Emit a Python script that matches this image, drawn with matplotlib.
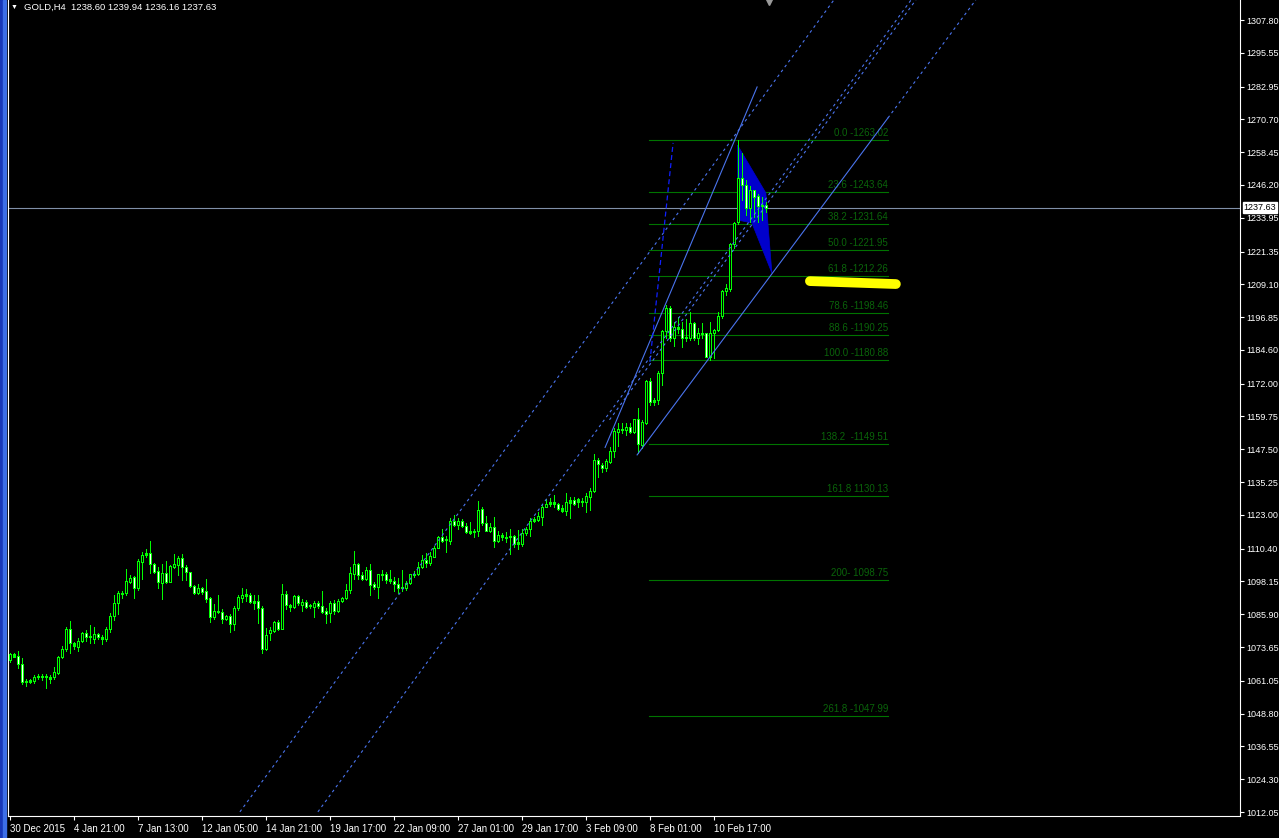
import numpy as np
import matplotlib.pyplot as plt
from matplotlib.patches import Polygon, Rectangle

plt.rcParams['font.family'] = ['Liberation Sans', 'DejaVu Sans']

# GOLD H4 candles (bar index = position on the time axis)
opens = [1068.8, 1070.9, 1070.3, 1067.3, 1060.7, 1060.6, 1060.8, 1062.5, 1062.9, 1062.3,
         1061.8, 1062.3, 1064.1, 1069.8, 1072.8, 1080.4, 1075.0, 1073.6, 1076.0, 1078.8,
         1077.3, 1076.6, 1078.5, 1077.3, 1076.6, 1080.4, 1085.1, 1090.0, 1093.7, 1093.7,
         1098.1, 1099.7, 1095.8, 1105.5, 1107.9, 1108.6, 1104.5, 1101.9, 1097.7, 1101.2,
         1098.1, 1103.7, 1104.3, 1106.8, 1103.7, 1101.5, 1096.6, 1094.0, 1095.6, 1094.6,
         1091.8, 1085.0, 1086.9, 1086.6, 1084.1, 1085.1, 1082.1, 1088.1, 1092.1, 1093.5,
         1092.9, 1090.8, 1090.8, 1088.1, 1072.8, 1079.0, 1079.8, 1082.9, 1080.4, 1093.5,
         1089.3, 1088.5, 1092.7, 1089.3, 1090.6, 1089.0, 1088.5, 1090.2, 1089.0, 1087.1,
         1086.2, 1090.0, 1087.1, 1090.8, 1091.8, 1095.0, 1100.8, 1104.5, 1100.5, 1099.0,
         1102.6, 1097.2, 1096.2, 1100.8, 1100.8, 1099.0, 1098.5, 1097.3, 1095.8, 1095.6,
         1097.4, 1100.7, 1101.1, 1103.6, 1106.1, 1105.1, 1107.4, 1110.7, 1114.6, 1113.5,
         1113.4, 1120.8, 1119.3, 1120.9, 1119.0, 1116.9, 1116.5, 1116.9, 1125.2, 1120.0,
         1117.1, 1118.6, 1113.3, 1115.5, 1114.6, 1114.6, 1115.0, 1112.0, 1112.2, 1116.1,
         1117.6, 1120.8, 1121.1, 1122.3, 1126.0, 1126.9, 1127.7, 1126.9, 1125.4, 1124.5,
         1127.6, 1128.6, 1127.9, 1128.3, 1127.8, 1129.8, 1132.0, 1143.5, 1141.8, 1140.6,
         1142.8, 1146.8, 1154.0, 1155.0, 1154.7, 1155.9, 1154.0, 1158.8, 1149.1, 1157.5,
         1173.0, 1165.0, 1165.9, 1175.8, 1191.6, 1200.4, 1188.9, 1193.3, 1192.6, 1189.0,
         1188.9, 1194.5, 1188.9, 1190.8, 1190.8, 1182.1, 1190.8, 1192.0, 1197.3, 1206.6,
         1207.2, 1224.0, 1232.3, 1248.7, 1246.2, 1237.5, 1244.3, 1242.0, 1238.3, 1238.60]
highs = [1071.3, 1071.3, 1072.2, 1069.4, 1061.6, 1061.6, 1063.1, 1063.6, 1063.6, 1063.6,
         1063.1, 1066.1, 1070.4, 1074.0, 1081.3, 1083.4, 1075.5, 1077.0, 1079.3, 1080.0,
         1081.9, 1081.0, 1079.0, 1078.1, 1081.0, 1086.4, 1093.1, 1094.7, 1094.7, 1102.7,
         1100.5, 1100.2, 1106.4, 1109.3, 1110.3, 1113.3, 1104.9, 1103.7, 1104.7, 1105.8,
         1104.3, 1108.5, 1107.8, 1108.3, 1104.3, 1101.8, 1096.8, 1097.2, 1095.9, 1099.1,
         1092.5, 1089.7, 1093.1, 1087.7, 1085.6, 1085.9, 1089.0, 1093.1, 1095.6, 1095.3,
         1093.7, 1093.1, 1093.1, 1089.0, 1080.6, 1081.0, 1083.5, 1083.7, 1097.2, 1094.7,
         1089.7, 1093.1, 1093.1, 1091.5, 1091.2, 1089.7, 1090.8, 1091.0, 1094.6, 1088.1,
         1090.8, 1091.2, 1091.5, 1092.5, 1097.1, 1103.4, 1109.5, 1105.1, 1101.8, 1103.4,
         1104.6, 1098.0, 1101.1, 1102.6, 1101.8, 1102.6, 1099.9, 1099.3, 1102.6, 1098.3,
         1101.1, 1102.0, 1105.5, 1108.0, 1108.6, 1109.2, 1111.5, 1115.2, 1117.7, 1115.1,
         1121.7, 1122.9, 1121.9, 1121.3, 1119.8, 1120.4, 1117.9, 1128.2, 1125.8, 1122.6,
         1119.8, 1122.1, 1117.1, 1116.1, 1116.7, 1117.9, 1115.5, 1117.3, 1117.9, 1118.6,
         1121.7, 1122.3, 1124.2, 1127.0, 1128.8, 1129.2, 1130.4, 1127.3, 1126.7, 1131.0,
         1129.5, 1129.5, 1129.2, 1129.2, 1131.0, 1132.9, 1145.6, 1144.1, 1142.2, 1143.7,
         1148.4, 1155.5, 1157.2, 1157.4, 1157.2, 1157.2, 1158.8, 1163.0, 1158.4, 1173.3,
         1174.0, 1166.5, 1176.7, 1191.9, 1201.4, 1201.0, 1195.2, 1197.0, 1195.0, 1196.0,
         1198.6, 1195.2, 1192.7, 1194.5, 1190.9, 1195.0, 1192.6, 1198.9, 1207.0, 1209.4,
         1224.5, 1232.5, 1263.0, 1258.0, 1248.0, 1246.0, 1244.5, 1243.0, 1241.8, 1239.94]
lows = [1068.2, 1069.8, 1065.7, 1059.8, 1059.2, 1060.1, 1060.3, 1061.7, 1061.3, 1058.2,
        1060.1, 1061.7, 1063.4, 1069.7, 1072.3, 1071.3, 1073.0, 1072.3, 1075.6, 1076.0,
        1075.0, 1075.3, 1076.8, 1074.8, 1076.0, 1079.1, 1083.7, 1086.0, 1091.8, 1093.1,
        1097.4, 1092.1, 1095.0, 1099.2, 1107.4, 1101.2, 1101.4, 1095.6, 1091.6, 1097.7,
        1097.8, 1103.0, 1100.5, 1098.7, 1098.7, 1095.9, 1093.5, 1093.3, 1093.5, 1090.6,
        1083.1, 1084.1, 1086.5, 1082.7, 1083.7, 1079.4, 1080.0, 1087.5, 1090.6, 1091.0,
        1090.0, 1087.7, 1082.7, 1071.3, 1072.5, 1076.3, 1079.4, 1080.0, 1080.3, 1087.7,
        1087.2, 1088.2, 1089.3, 1087.2, 1088.1, 1088.1, 1085.0, 1088.1, 1086.5, 1082.5,
        1083.1, 1086.0, 1086.6, 1090.5, 1091.5, 1094.0, 1099.0, 1099.0, 1098.6, 1098.6,
        1093.0, 1095.5, 1092.0, 1098.6, 1097.7, 1097.7, 1094.7, 1094.0, 1094.5, 1094.9,
        1097.2, 1099.9, 1100.5, 1103.0, 1103.4, 1104.3, 1107.1, 1110.5, 1112.7, 1109.2,
        1112.3, 1118.9, 1117.7, 1118.6, 1116.1, 1115.8, 1114.6, 1115.2, 1119.2, 1117.0,
        1116.7, 1111.1, 1112.7, 1113.6, 1113.0, 1108.4, 1111.1, 1110.2, 1111.5, 1115.5,
        1115.2, 1120.4, 1120.7, 1119.2, 1125.8, 1126.3, 1126.0, 1124.8, 1124.2, 1122.9,
        1121.9, 1126.7, 1125.8, 1126.3, 1124.2, 1125.0, 1131.6, 1137.2, 1139.1, 1139.5,
        1142.2, 1144.5, 1148.8, 1153.4, 1152.8, 1153.4, 1153.4, 1146.0, 1148.0, 1157.0,
        1164.2, 1164.2, 1164.3, 1171.5, 1189.0, 1188.0, 1186.0, 1190.8, 1185.6, 1188.0,
        1188.3, 1188.3, 1187.0, 1188.9, 1181.8, 1180.9, 1181.4, 1191.7, 1196.5, 1205.1,
        1206.5, 1222.5, 1231.8, 1240.6, 1235.0, 1232.5, 1234.4, 1232.5, 1233.1, 1236.16]
closes = [1070.9, 1070.0, 1067.2, 1060.7, 1060.8, 1061.3, 1062.6, 1062.9, 1062.3, 1062.3,
          1062.6, 1064.2, 1070.0, 1072.8, 1080.4, 1075.0, 1074.1, 1075.9, 1078.8, 1077.3,
          1077.3, 1078.4, 1077.3, 1076.6, 1080.4, 1085.1, 1090.0, 1093.8, 1093.5, 1098.2,
          1099.3, 1095.6, 1105.7, 1107.9, 1108.8, 1104.5, 1101.8, 1097.8, 1101.2, 1098.1,
          1103.9, 1104.7, 1106.8, 1103.7, 1101.5, 1096.6, 1094.0, 1095.6, 1094.3, 1091.5,
          1085.0, 1087.1, 1086.8, 1084.1, 1085.2, 1082.1, 1088.1, 1092.2, 1093.1, 1092.7,
          1090.6, 1090.2, 1088.1, 1072.8, 1078.1, 1080.0, 1082.9, 1080.4, 1093.5, 1089.3,
          1088.5, 1092.7, 1090.0, 1090.6, 1088.7, 1089.0, 1090.0, 1089.0, 1086.9, 1086.0,
          1090.0, 1087.1, 1090.8, 1092.1, 1095.0, 1101.2, 1104.5, 1100.5, 1099.0, 1102.6,
          1097.0, 1096.2, 1100.8, 1100.6, 1098.6, 1098.4, 1097.2, 1095.8, 1095.9, 1097.4,
          1100.8, 1101.1, 1103.6, 1106.1, 1105.1, 1107.6, 1110.7, 1114.6, 1113.3, 1113.6,
          1120.8, 1119.4, 1120.7, 1118.9, 1116.7, 1116.3, 1116.7, 1124.8, 1119.8, 1117.1,
          1118.6, 1113.3, 1115.5, 1114.6, 1114.5, 1115.1, 1112.3, 1112.7, 1116.1, 1117.9,
          1120.8, 1121.4, 1122.6, 1126.0, 1127.0, 1127.9, 1126.9, 1125.2, 1124.5, 1127.9,
          1128.5, 1127.0, 1128.8, 1128.0, 1130.0, 1131.9, 1143.5, 1142.0, 1140.6, 1143.1,
          1146.8, 1154.4, 1155.0, 1154.7, 1155.9, 1153.8, 1158.8, 1149.3, 1157.8, 1173.0,
          1165.0, 1165.9, 1175.8, 1191.6, 1200.4, 1188.9, 1193.3, 1192.3, 1188.9, 1189.6,
          1194.5, 1188.9, 1190.8, 1190.6, 1182.1, 1190.8, 1192.0, 1197.2, 1206.6, 1207.6,
          1224.0, 1232.1, 1248.7, 1246.2, 1237.5, 1244.3, 1241.8, 1238.3, 1238.9, 1237.63]

date_ticks = [0, 16, 32, 48, 64, 80, 96, 112, 128, 144, 160, 176]
date_labels = ['30 Dec 2015', '4 Jan 21:00', '7 Jan 13:00', '12 Jan 05:00', '14 Jan 21:00',
               '19 Jan 17:00', '22 Jan 09:00', '27 Jan 01:00', '29 Jan 17:00', '3 Feb 09:00',
               '8 Feb 01:00', '10 Feb 17:00']
price_ticks = [1307.80, 1295.55, 1282.95, 1270.70, 1258.45, 1246.20, 1233.95, 1221.35,
               1209.10, 1196.85, 1184.60, 1172.00, 1159.75, 1147.50, 1135.25, 1123.00,
               1110.40, 1098.15, 1085.90, 1073.65, 1061.05, 1048.80, 1036.55, 1024.30, 1012.05]

fib_prices = [1263.02, 1243.64, 1231.64, 1221.95, 1212.26, 1198.46, 1190.25, 1180.88,
              1149.51, 1130.13, 1098.75, 1047.99]
fib_texts = ['0.0 -1263.02', '23.6 -1243.64', '38.2 -1231.64', '50.0 -1221.95',
             '61.8 -1212.26', '78.6 -1198.46', '88.6 -1190.25', '100.0 -1180.88',
             '138.2  -1149.51', '161.8 1130.13', '200- 1098.75', '261.8 -1047.99']
fib_span = [159.9, 219.6]

last_price = 1237.63
header = 'GOLD,H4  1238.60 1239.94 1236.16 1237.63'

# drawn objects: (bar, price) anchors
steep_line = ([148.9, 186.9], [1148.2, 1282.8])
lower_line = ([156.9, 219.6], [1145.4, 1271.2])
dot_line1 = ([57.6, 206.1], [1012.1, 1315.3])
dot_line2 = ([77.1, 225.4], [1012.1, 1315.3])
dot_line3 = ([150.0, 226.6], [1158.5, 1315.3])
dash_line = ([160.1, 165.9], [1180.1, 1261.9])
wedge_x = [182.0, 189.1, 189.4, 190.6, 185.6, 182.1]
wedge_y = [1261.1, 1243.2, 1235.7, 1213.3, 1232.0, 1233.1]
marker_line = ([200.1, 221.6], [1210.3, 1209.2])

W, H = 1279, 838
fig = plt.figure(figsize=(W / 100, H / 100), dpi=100, facecolor='black')
ax = fig.add_axes([8 / W, 22 / H, 1232 / W, 816 / H], facecolor='black')
ymin, ymax = 1010.56, 1315.27
ax.set_xlim(-0.375, 307.625)
ax.set_ylim(ymin, ymax)

# left window edge
fig.patches.append(Rectangle((0, 0), 3 / W, 1, transform=fig.transFigure, color='#1838b8'))
fig.patches.append(Rectangle((3 / W, 0), 3 / W, 1, transform=fig.transFigure, color='#3c6ee6'))

blue = '#4a74ee'
fib_green = '#007400'
dots = (0, (2.5, 3))

# fibonacci levels
for p, t in zip(fib_prices, fib_texts):
    ax.plot(fib_span, [p, p], color=fib_green, lw=0.8, zorder=1)
    ax.annotate(t, (fib_span[1], p), xytext=(0, 1.2), textcoords='offset points',
                ha='right', va='bottom', fontsize=7, color='#0a640a', zorder=1)

# current price line
ax.axhline(last_price, color='#8090a8', lw=0.8, zorder=1.5)

# triangle object
ax.add_patch(Polygon(list(zip(wedge_x, wedge_y)), closed=True, fc='#0000cc', ec='#0000cc',
                     lw=0.5, zorder=2))

# candles
idx = np.arange(len(opens))
o, h, l, c = map(np.array, (opens, highs, lows, closes))
ppu = 816 / (ymax - ymin)
one_px = 1 / ppu
top = np.maximum(o, c)
bot = np.minimum(o, c)
top = np.maximum(top, bot + one_px)
ax.vlines(idx, l, h, color='#00ff00', lw=0.72, antialiased=False, zorder=3)
ax.vlines(idx, bot, top, color='#00ff00', lw=2.16, antialiased=False, zorder=3)
tall = (top - bot) > 2.5 * one_px
inner = np.where(c < o, 'white', 'black')
ax.vlines(idx[tall], bot[tall] + one_px, top[tall] - one_px, colors=inner[tall], lw=0.72,
          antialiased=False, zorder=3.1)

# trend lines
ax.plot(*steep_line, color=blue, lw=0.8, zorder=4)
ax.plot(*lower_line, color=blue, lw=0.8, zorder=4)
slope = (lower_line[1][1] - lower_line[1][0]) / (lower_line[0][1] - lower_line[0][0])
x_end = lower_line[0][1] + (ymax - lower_line[1][1]) / slope
ax.plot([lower_line[0][1], x_end], [lower_line[1][1], ymax], color=blue, lw=0.8,
        ls=dots, zorder=4)
for ln in (dot_line1, dot_line2, dot_line3):
    ax.plot(*ln, color=blue, lw=0.8, ls=dots, zorder=4)
ax.plot(*dash_line, color='#1020ff', lw=0.9, ls=(0, (4, 2.5)), zorder=4)

# highlighter stroke
ax.plot(*marker_line, color='#ffff00', lw=7, solid_capstyle='round', zorder=6)

# chart shift marker
ax.plot([189.9], [ymax - 0.6], marker='v', ms=5, color='#9a9a9a', clip_on=False, zorder=6)

# axes
for side in ('left', 'right', 'bottom'):
    ax.spines[side].set_color('white')
    ax.spines[side].set_linewidth(0.8)
ax.spines['top'].set_visible(False)

ax.yaxis.tick_right()
ax.set_yticks(price_ticks)
ax.set_yticklabels([f'{v:.2f}' for v in price_ticks])
ax.set_xticks(date_ticks)
ax.set_xticklabels(date_labels)
for lbl in ax.get_xticklabels():
    lbl.set_ha('left')
ax.tick_params(axis='both', colors='white', labelcolor='white', labelsize=6.5,
               direction='out', length=3, width=0.8, pad=1.5)
ax.tick_params(axis='x', labelsize=7, pad=2.5)

ax.annotate(f'{last_price:.2f}', xy=(1.0, last_price), xycoords=('axes fraction', 'data'),
            xytext=(2.6, 0), textcoords='offset points', ha='left', va='center',
            fontsize=6.5, color='black', annotation_clip=False, zorder=10,
            bbox=dict(boxstyle='square,pad=0.12', fc='white', ec='white'))

fig.text(14 / W, 1 - 7 / H, '▼', fontsize=5, color='white', va='center', ha='center')
fig.text(24 / W, 1 - 7 / H, header, fontsize=6.8, color='white', va='center', ha='left')

fig.savefig('out.png', dpi=100, facecolor='black')
